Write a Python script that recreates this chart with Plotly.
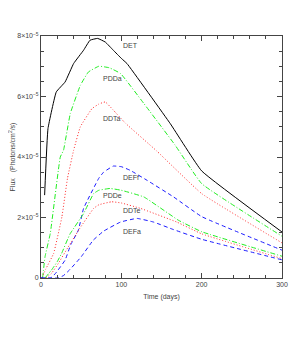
import plotly.graph_objects as go
import numpy as np

SCALE = 1e-5  # flux values below are in units of 1e-5 photons/cm^2/s

det_days = [4.5, 8.7, 19, 30, 40.6, 53, 61, 70.5, 80, 90, 100, 107, 161, 200, 300]
det_flux = [2.74, 4.94, 6.15, 6.48, 7.09, 7.53, 7.86, 7.92, 7.8, 7.53, 7.26, 7.09, 5.1, 3.54, 1.52]

pdda_days = [2, 5, 11.6, 24, 28, 36.5, 49, 59, 72, 85, 99, 128, 167, 200, 300]
pdda_flux = [0, 0.70, 1.48, 4.0, 4.22, 5.44, 6.37, 6.81, 7.0, 6.95, 6.76, 5.77, 4.39, 3.12, 1.38]

ddta_days = [1, 6, 15.7, 26, 33, 40.6, 49, 63.5, 72, 80, 90, 105, 144, 200, 300]
ddta_flux = [0, 0.3, 0.81, 2.02, 3.3, 4.22, 5.0, 5.6, 5.75, 5.82, 5.55, 5.12, 4.2, 2.79, 1.16]

deff_days = [0, 12, 18, 30, 37, 46.5, 53, 72, 78, 90, 100, 111, 132, 165, 200, 300]
deff_flux = [0, 0, 0.15, 0.59, 1.1, 1.58, 2.3, 3.3, 3.5, 3.7, 3.68, 3.56, 3.23, 2.68, 2.03, 0.92]

pdde_days = [5, 13, 20, 25.6, 36, 53, 65.5, 72, 86, 100, 128, 171, 200, 300]
pdde_flux = [0, 0.26, 0.53, 0.81, 1.45, 2.13, 2.79, 2.90, 2.96, 2.90, 2.68, 1.91, 1.53, 0.72]

ddte_days = [6, 13, 21.5, 34, 48.5, 65.5, 72, 88, 100, 124, 169, 200, 300]
ddte_flux = [0, 0.15, 0.48, 1.03, 1.65, 2.30, 2.42, 2.52, 2.48, 2.30, 1.85, 1.46, 0.64]

defa_days = [0, 9, 21, 28, 36, 50, 65, 78, 99, 119.5, 140, 165, 200, 300]
defa_flux = [0, 0, 0, 0.08, 0.28, 0.70, 1.25, 1.55, 1.85, 1.97, 1.85, 1.6, 1.28, 0.60]

labels = ["DET", "PDDa", "DDTa", "DEFf", "PDDe", "DDTe", "DEFa"]
label_x = [99.6, 74.7, 74.7, 100, 74.7, 100, 100]
label_y = [7.68, 6.58, 5.27, 3.33, 2.72, 2.22, 1.53]

y_tickvals = [0, 2, 4, 6, 8]
y_ticktext = ["0", "2×10<sup>−5</sup>", "4×10<sup>−5</sup>", "6×10<sup>−5</sup>", "8×10<sup>−5</sup>"]
x_tickvals = [0, 100, 200, 300]

GREEN_DASH = "5px,2px,1px,2px"
RED_DOT = "1px,2px"
BLUE_DASH = "4px,3px"

series = [
    (det_days, det_flux, "#000000", "solid"),
    (pdda_days, pdda_flux, "#22ee22", GREEN_DASH),
    (ddta_days, ddta_flux, "#ff2a2a", RED_DOT),
    (deff_days, deff_flux, "#1a1aff", BLUE_DASH),
    (pdde_days, pdde_flux, "#22ee22", GREEN_DASH),
    (ddte_days, ddte_flux, "#ff2a2a", RED_DOT),
    (defa_days, defa_flux, "#1a1aff", BLUE_DASH),
]

fig = go.Figure()
for d, f, c, dash in series:
    fig.add_trace(go.Scatter(
        x=d, y=np.array(f) * SCALE, mode="lines",
        line=dict(color=c, width=1, dash=dash, shape="spline", smoothing=0.3),
        showlegend=False, hoverinfo="skip"))

for t, lx, ly in zip(labels, label_x, label_y):
    fig.add_annotation(x=lx, y=ly * SCALE, text=t, showarrow=False,
                       xanchor="left", yanchor="middle",
                       font=dict(size=7, color="#444444", family="Liberation Sans, Arial"))

axis_common = dict(showline=True, linecolor="#444444", linewidth=1, mirror="ticks",
                   ticks="inside", ticklen=5, tickcolor="#444444", showgrid=False,
                   zeroline=False, automargin=False, tickfont=dict(size=7, color="#444444"))

fig.update_xaxes(range=[0, 300], tickvals=x_tickvals, ticktext=[str(v) for v in x_tickvals],
                 minor=dict(dtick=20, tick0=0, ticks="inside", ticklen=3, tickcolor="#444444"),
                 title=dict(text="Time (days)", font=dict(size=7, color="#444444"), standoff=6),
                 **axis_common)
fig.update_yaxes(range=[0, 8 * SCALE], tickvals=[v * SCALE for v in y_tickvals], ticktext=y_ticktext,
                 minor=dict(dtick=0.5 * SCALE, tick0=0, ticks="inside", ticklen=3, tickcolor="#444444"),
                 title=dict(text="Flux   (Photons/cm<sup>2</sup>/s)", font=dict(size=7, color="#444444"), standoff=4),
                 **axis_common)

# page body has an 8px default margin, so the figure is sized to fill the rest of the window
fig.update_layout(width=291, height=330, margin=dict(l=33, r=17, t=28, b=60),
                  paper_bgcolor="white", plot_bgcolor="white",
                  font=dict(family="Liberation Sans, Arial", size=7, color="#444444"))

fig.write_html("out.html")
